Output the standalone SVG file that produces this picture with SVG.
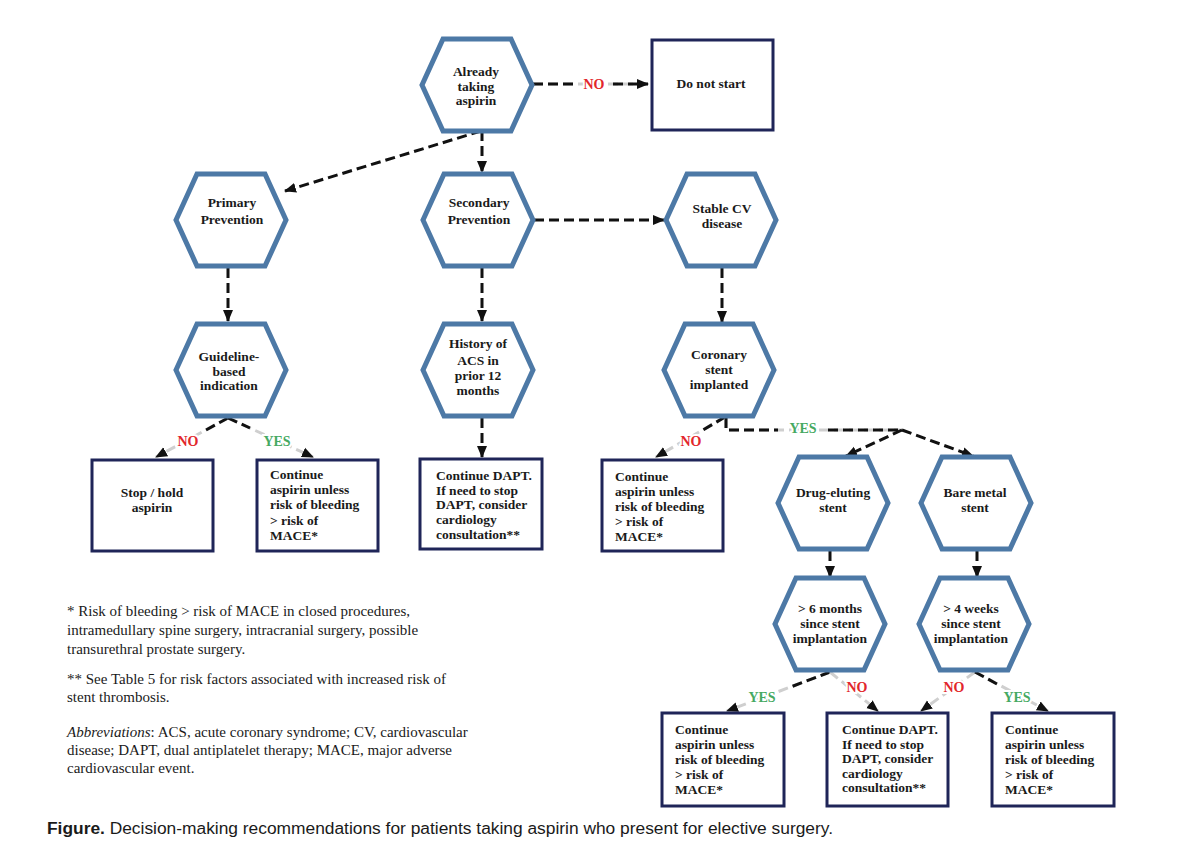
<svg xmlns="http://www.w3.org/2000/svg" xmlns:xlink="http://www.w3.org/1999/xlink" width="1200" height="851" viewBox="0 0 1200 851">
<style>
.hex{fill:#fff;stroke:#4d79a6;stroke-width:5;stroke-linejoin:miter}
.box{fill:#fff;stroke:#1f2558;stroke-width:3}
.t{font-family:"Liberation Serif","Times New Roman",serif;font-weight:bold;font-size:13.5px;fill:#1a1a1a}
.c{text-anchor:middle}
.k{fill:none;stroke:#111;stroke-width:3;stroke-dasharray:10 5}
.g{fill:none;stroke:#cfcfcf;stroke-width:3;stroke-dasharray:10 5}
.lab{font-family:"Liberation Serif","Times New Roman",serif;font-weight:bold;font-size:14px;text-anchor:middle;paint-order:stroke;stroke:#fff;stroke-width:4}
.no{fill:#e2262b}
.yes{fill:#45a962}
.fn{font-family:"Liberation Serif","Times New Roman",serif;font-size:15px;fill:#1a1a1a}
.cap{font-family:"Liberation Sans",Arial,sans-serif;font-size:16px;fill:#1a1a1a}
</style>
<defs>
<polygon id="hx" points="-55,0 -34,-46 34,-46 55,0 34,46 -34,46"/>
<marker id="ah" markerUnits="userSpaceOnUse" markerWidth="12" markerHeight="12" viewBox="0 0 12 12" refX="11" refY="6" orient="auto">
<path d="M0,1 L12,6 L0,11 Z" fill="#111"/>
</marker>
</defs>
<rect width="1200" height="851" fill="#fff"/>

<g id="connectors">
<path class="g" d="M533,84 L648,84"/>
<path class="k" d="M533,84 L577,84"/>
<path class="k" d="M613,84 L648,84" marker-end="url(#ah)"/>
<path class="k" d="M481,131 L285,191" marker-end="url(#ah)"/>
<path class="k" d="M482,131 L482,172" marker-end="url(#ah)"/>
<path class="k" d="M534,220 L664,220" marker-end="url(#ah)"/>
<path class="k" d="M228,268 L228,321" marker-end="url(#ah)"/>
<path class="k" d="M482,268 L482,321" marker-end="url(#ah)"/>
<path class="k" d="M722,268 L722,322" marker-end="url(#ah)"/>
<path class="g" d="M228,418 L156,457" marker-end="url(#ah)"/>
<path class="k" d="M228,418 L206,430"/>
<path class="g" d="M228,418 L313,457" marker-end="url(#ah)"/>
<path class="k" d="M228,418 L250,428"/>
<path class="k" d="M482,418 L482,457" marker-end="url(#ah)"/>
<path class="g" d="M725,417 L656,457" marker-end="url(#ah)"/>
<path class="k" d="M725,417 L703,430"/>
<path class="g" d="M726,418 L726,430 L902,430"/>
<path class="k" d="M726,418 L726,430 L778,430"/>
<path class="k" d="M828,430 L902,430"/>
<path class="k" d="M902,430 L846,456" marker-end="url(#ah)"/>
<path class="k" d="M902,430 L973,456" marker-end="url(#ah)"/>
<path class="k" d="M830,551 L830,577" marker-end="url(#ah)"/>
<path class="k" d="M977,551 L977,577" marker-end="url(#ah)"/>
<path class="g" d="M830,672 L727,711" marker-end="url(#ah)"/>
<path class="k" d="M830,672 L788,688"/>
<path class="g" d="M830,672 L878,711" marker-end="url(#ah)"/>
<path class="g" d="M975,672 L921,711" marker-end="url(#ah)"/>
<path class="g" d="M975,672 L1048,711" marker-end="url(#ah)"/>
<path class="k" d="M975,672 L997,684"/>
<text class="lab no" x="594" y="89">NO</text>
<text class="lab no" x="188" y="446">NO</text>
<text class="lab yes" x="277" y="446">YES</text>
<text class="lab no" x="691" y="446">NO</text>
<text class="lab yes" x="803" y="433">YES</text>
<text class="lab yes" x="762" y="702">YES</text>
<text class="lab no" x="857" y="692">NO</text>
<text class="lab no" x="954" y="692">NO</text>
<text class="lab yes" x="1017" y="702">YES</text>
</g>

<g id="n-already"><use xlink:href="#hx" href="#hx" class="hex" x="477" y="85"/>
<text class="t c"><tspan x="476" y="76">Already</tspan><tspan x="476" y="90.5">taking</tspan><tspan x="476" y="105">aspirin</tspan></text></g>

<g id="n-donotstart"><rect class="box" x="652" y="40" width="121" height="90"/>
<text class="t c" x="711" y="88">Do not start</text></g>

<g id="n-primary"><use xlink:href="#hx" href="#hx" class="hex" x="231" y="220"/>
<text class="t c"><tspan x="232" y="207">Primary</tspan><tspan x="232" y="224">Prevention</tspan></text></g>

<g id="n-secondary"><use xlink:href="#hx" href="#hx" class="hex" x="478" y="220"/>
<text class="t c"><tspan x="479" y="207">Secondary</tspan><tspan x="479" y="224">Prevention</tspan></text></g>

<g id="n-stable"><use xlink:href="#hx" href="#hx" class="hex" x="721" y="220"/>
<text class="t c"><tspan x="722" y="213">Stable CV</tspan><tspan x="722" y="228">disease</tspan></text></g>

<g id="n-guideline"><use xlink:href="#hx" href="#hx" class="hex" x="231" y="370"/>
<text class="t c"><tspan x="229" y="361">Guideline-</tspan><tspan x="229" y="375.5">based</tspan><tspan x="229" y="390">indication</tspan></text></g>

<g id="n-history"><use xlink:href="#hx" href="#hx" class="hex" x="478" y="370"/>
<text class="t c"><tspan x="478" y="348">History of</tspan><tspan x="478" y="365">ACS in</tspan><tspan x="478" y="380">prior 12</tspan><tspan x="478" y="395">months</tspan></text></g>

<g id="n-coronary"><use xlink:href="#hx" href="#hx" class="hex" x="719" y="370"/>
<text class="t c"><tspan x="719" y="359">Coronary</tspan><tspan x="719" y="374">stent</tspan><tspan x="719" y="389">implanted</tspan></text></g>

<g id="n-stop"><rect class="box" x="92" y="460" width="121" height="91"/>
<text class="t c"><tspan x="152" y="497">Stop / hold</tspan><tspan x="152" y="512">aspirin</tspan></text></g>

<g id="n-continue1"><rect class="box" x="257" y="460" width="121" height="91"/>
<text class="t"><tspan x="270" y="479">Continue</tspan><tspan x="270" y="494.2">aspirin unless</tspan><tspan x="270" y="509.4">risk of bleeding</tspan><tspan x="270" y="524.6">&gt; risk of</tspan><tspan x="270" y="539.8">MACE*</tspan></text></g>

<g id="n-dapt1"><rect class="box" x="420" y="459" width="122" height="90"/>
<text class="t"><tspan x="436" y="480">Continue DAPT.</tspan><tspan x="436" y="494.7">If need to stop</tspan><tspan x="436" y="509.4">DAPT, consider</tspan><tspan x="436" y="524.1">cardiology</tspan><tspan x="436" y="538.8">consultation**</tspan></text></g>

<g id="n-continue2"><rect class="box" x="602" y="460" width="121" height="91"/>
<text class="t"><tspan x="615" y="481">Continue</tspan><tspan x="615" y="496">aspirin unless</tspan><tspan x="615" y="511">risk of bleeding</tspan><tspan x="615" y="526">&gt; risk of</tspan><tspan x="615" y="541">MACE*</tspan></text></g>

<g id="n-drug"><use xlink:href="#hx" href="#hx" class="hex" x="833" y="503"/>
<text class="t c"><tspan x="833" y="497">Drug-eluting</tspan><tspan x="833" y="512">stent</tspan></text></g>

<g id="n-bare"><use xlink:href="#hx" href="#hx" class="hex" x="976" y="503"/>
<text class="t c"><tspan x="975" y="497">Bare metal</tspan><tspan x="975" y="512">stent</tspan></text></g>

<g id="n-6months"><use xlink:href="#hx" href="#hx" class="hex" x="830" y="624"/>
<text class="t c"><tspan x="830" y="613">&gt; 6 months</tspan><tspan x="830" y="628">since stent</tspan><tspan x="830" y="643">implantation</tspan></text></g>

<g id="n-4weeks"><use xlink:href="#hx" href="#hx" class="hex" x="974" y="624"/>
<text class="t c"><tspan x="971" y="613">&gt; 4 weeks</tspan><tspan x="971" y="628">since stent</tspan><tspan x="971" y="643">implantation</tspan></text></g>

<g id="n-continue3"><rect class="box" x="662" y="713" width="122" height="93"/>
<text class="t"><tspan x="675" y="734">Continue</tspan><tspan x="675" y="749">aspirin unless</tspan><tspan x="675" y="764">risk of bleeding</tspan><tspan x="675" y="779">&gt; risk of</tspan><tspan x="675" y="794">MACE*</tspan></text></g>

<g id="n-dapt2"><rect class="box" x="827" y="713" width="121" height="93"/>
<text class="t"><tspan x="842" y="734">Continue DAPT.</tspan><tspan x="842" y="748.5">If need to stop</tspan><tspan x="842" y="763">DAPT, consider</tspan><tspan x="842" y="777.5">cardiology</tspan><tspan x="842" y="792">consultation**</tspan></text></g>

<g id="n-continue4"><rect class="box" x="992" y="713" width="122" height="93"/>
<text class="t"><tspan x="1005" y="734">Continue</tspan><tspan x="1005" y="749">aspirin unless</tspan><tspan x="1005" y="764">risk of bleeding</tspan><tspan x="1005" y="779">&gt; risk of</tspan><tspan x="1005" y="794">MACE*</tspan></text></g>

<g id="footnotes">
<text class="fn" x="67" y="616">* Risk of bleeding &gt; risk of MACE in closed procedures,</text>
<text class="fn" x="67" y="635">intramedullary spine surgery, intracranial surgery, possible</text>
<text class="fn" x="67" y="654">transurethral prostate surgery.</text>
<text class="fn" x="67" y="684">** See Table 5 for risk factors associated with increased risk of</text>
<text class="fn" x="67" y="702">stent thrombosis.</text>
<text class="fn" x="67" y="737"><tspan font-style="italic">Abbreviations</tspan>: ACS, acute coronary syndrome; CV, cardiovascular</text>
<text class="fn" x="67" y="755">disease; DAPT, dual antiplatelet therapy; MACE, major adverse</text>
<text class="fn" x="67" y="773">cardiovascular event.</text>
</g>

<g id="caption">
<text class="cap" x="47" y="834" textLength="786" lengthAdjust="spacingAndGlyphs"><tspan font-weight="bold">Figure.</tspan> Decision-making recommendations for patients taking aspirin who present for elective surgery.</text>
</g>
</svg>
